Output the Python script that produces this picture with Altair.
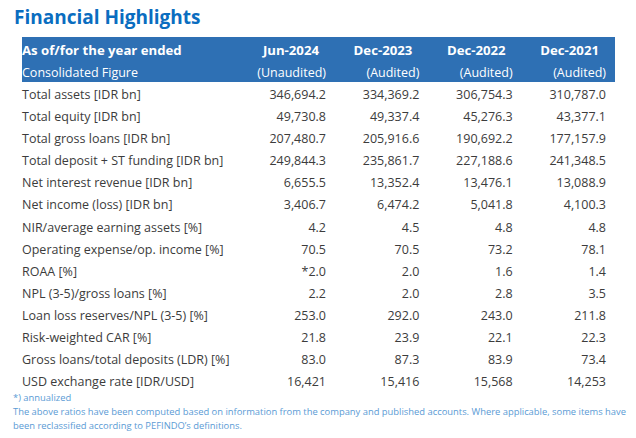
import altair as alt
import pandas as pd

# ---- data ----
title_text = "Financial Highlights"
header_left = ["As of/for the year ended", "Consolidated Figure"]
periods = ["Jun-2024", "Dec-2023", "Dec-2022", "Dec-2021"]
audit_status = ["(Unaudited)", "(Audited)", "(Audited)", "(Audited)"]

labels = [
    "Total assets [IDR bn]",
    "Total equity [IDR bn]",
    "Total gross loans [IDR bn]",
    "Total deposit + ST funding [IDR bn]",
    "Net interest revenue [IDR bn]",
    "Net income (loss) [IDR bn]",
    "NIR/average earning assets [%]",
    "Operating expense/op. income [%]",
    "ROAA [%]",
    "NPL (3-5)/gross loans [%]",
    "Loan loss reserves/NPL (3-5) [%]",
    "Risk-weighted CAR [%]",
    "Gross loans/total deposits (LDR) [%]",
    "USD exchange rate [IDR/USD]",
]
jun_2024 = ["346,694.2", "49,730.8", "207,480.7", "249,844.3", "6,655.5", "3,406.7",
            "4.2", "70.5", "*2.0", "2.2", "253.0", "21.8", "83.0", "16,421"]
dec_2023 = ["334,369.2", "49,337.4", "205,916.6", "235,861.7", "13,352.4", "6,474.2",
            "4.5", "70.5", "2.0", "2.0", "292.0", "23.9", "87.3", "15,416"]
dec_2022 = ["306,754.3", "45,276.3", "190,692.2", "227,188.6", "13,476.1", "5,041.8",
            "4.8", "73.2", "1.6", "2.8", "243.0", "22.1", "83.9", "15,568"]
dec_2021 = ["310,787.0", "43,377.1", "177,157.9", "241,348.5", "13,088.9", "4,100.3",
            "4.8", "78.1", "1.4", "3.5", "211.8", "22.3", "73.4", "14,253"]
footnotes = [
    "*) annualized",
    "The above ratios have been computed based on information from the company and published accounts. Where applicable, some items have",
    "been reclassified according to PEFINDO\u2019s definitions.",
]

# ---- tables ----
columns = [jun_2024, dec_2023, dec_2022, dec_2021]
body = pd.DataFrame(
    [{"row": lab, "col": p, "text": col[i]}
     for p, col in zip(periods, columns) for i, lab in enumerate(labels)]
)
lab_df = pd.DataFrame({"row": labels, "text": labels})
hdr_l1_df = pd.DataFrame({"row": ["h1"], "text": [header_left[0]]})
hdr_l2_df = pd.DataFrame({"row": ["h2"], "text": [header_left[1]]})
hdr_date_df = pd.DataFrame({"row": ["h1"] * 4, "col": periods, "text": periods})
hdr_aud_df = pd.DataFrame({"row": ["h2"] * 4, "col": periods, "text": audit_status})

FONT = "Open Sans"
BLUE = "#2E70B4"
TXT = "#3C3C3C"
FS = 12.5
FSB = 13.2

y_scale = alt.Scale(type="point", domain=["h1", "h2"] + labels, range=[35, 366], padding=0)
x_scale = alt.Scale(type="point", domain=periods, range=[318, 598], padding=0)
Y = alt.Y("row:N", scale=y_scale, axis=None)
X = alt.X("col:N", scale=x_scale, axis=None)

one = pd.DataFrame({"a": [0]})

header_bg = alt.Chart(one).mark_rect(color=BLUE).encode(
    x=alt.value(14), x2=alt.value(607), y=alt.value(21), y2=alt.value(66)
)
title = alt.Chart(pd.DataFrame({"text": [title_text]})).mark_text(
    font=FONT, fontSize=19, fontWeight="bold", color="#0A6DC0", align="left", baseline="alphabetic"
).encode(x=alt.value(6), y=alt.value(8), text="text:N")

hdr_l1 = alt.Chart(hdr_l1_df).mark_text(
    font=FONT, fontSize=FSB, fontWeight="bold", color="white", align="left", baseline="middle"
).encode(x=alt.value(14), y=Y, text="text:N")
hdr_l2 = alt.Chart(hdr_l2_df).mark_text(
    font=FONT, fontSize=FS, color="white", align="left", baseline="middle"
).encode(x=alt.value(14), y=Y, text="text:N")
hdr_date = alt.Chart(hdr_date_df).mark_text(
    font=FONT, fontSize=FSB, fontWeight="bold", color="white", align="right", baseline="middle", dx=-7
).encode(x=X, y=Y, text="text:N")
hdr_aud = alt.Chart(hdr_aud_df).mark_text(
    font=FONT, fontSize=FS, color="white", align="right", baseline="middle"
).encode(x=X, y=Y, text="text:N")

row_labels = alt.Chart(lab_df).mark_text(
    font=FONT, fontSize=FS, color=TXT, align="left", baseline="middle"
).encode(x=alt.value(14), y=Y, text="text:N")
values = alt.Chart(body).mark_text(
    font=FONT, fontSize=FS, color=TXT, align="right", baseline="middle"
).encode(x=X, y=Y, text="text:N")

notes = alt.Chart(pd.DataFrame({"text": [footnotes]})).mark_text(
    font=FONT, fontSize=9.4, color="#5B9BD5", align="left", baseline="middle", lineHeight=14
).encode(x=alt.value(5), y=alt.value(382), text="text:N")

chart = alt.layer(
    header_bg, title, hdr_l1, hdr_l2, hdr_date, hdr_aud, row_labels, values, notes
).properties(
    width=620, height=414,
    padding={"top": 8, "left": 0, "right": 0, "bottom": 8},
    autosize=alt.AutoSizeParams(type="none"),
).configure_view(stroke=None)

chart.save("out.html", embed_options={"renderer": "svg", "actions": False})
